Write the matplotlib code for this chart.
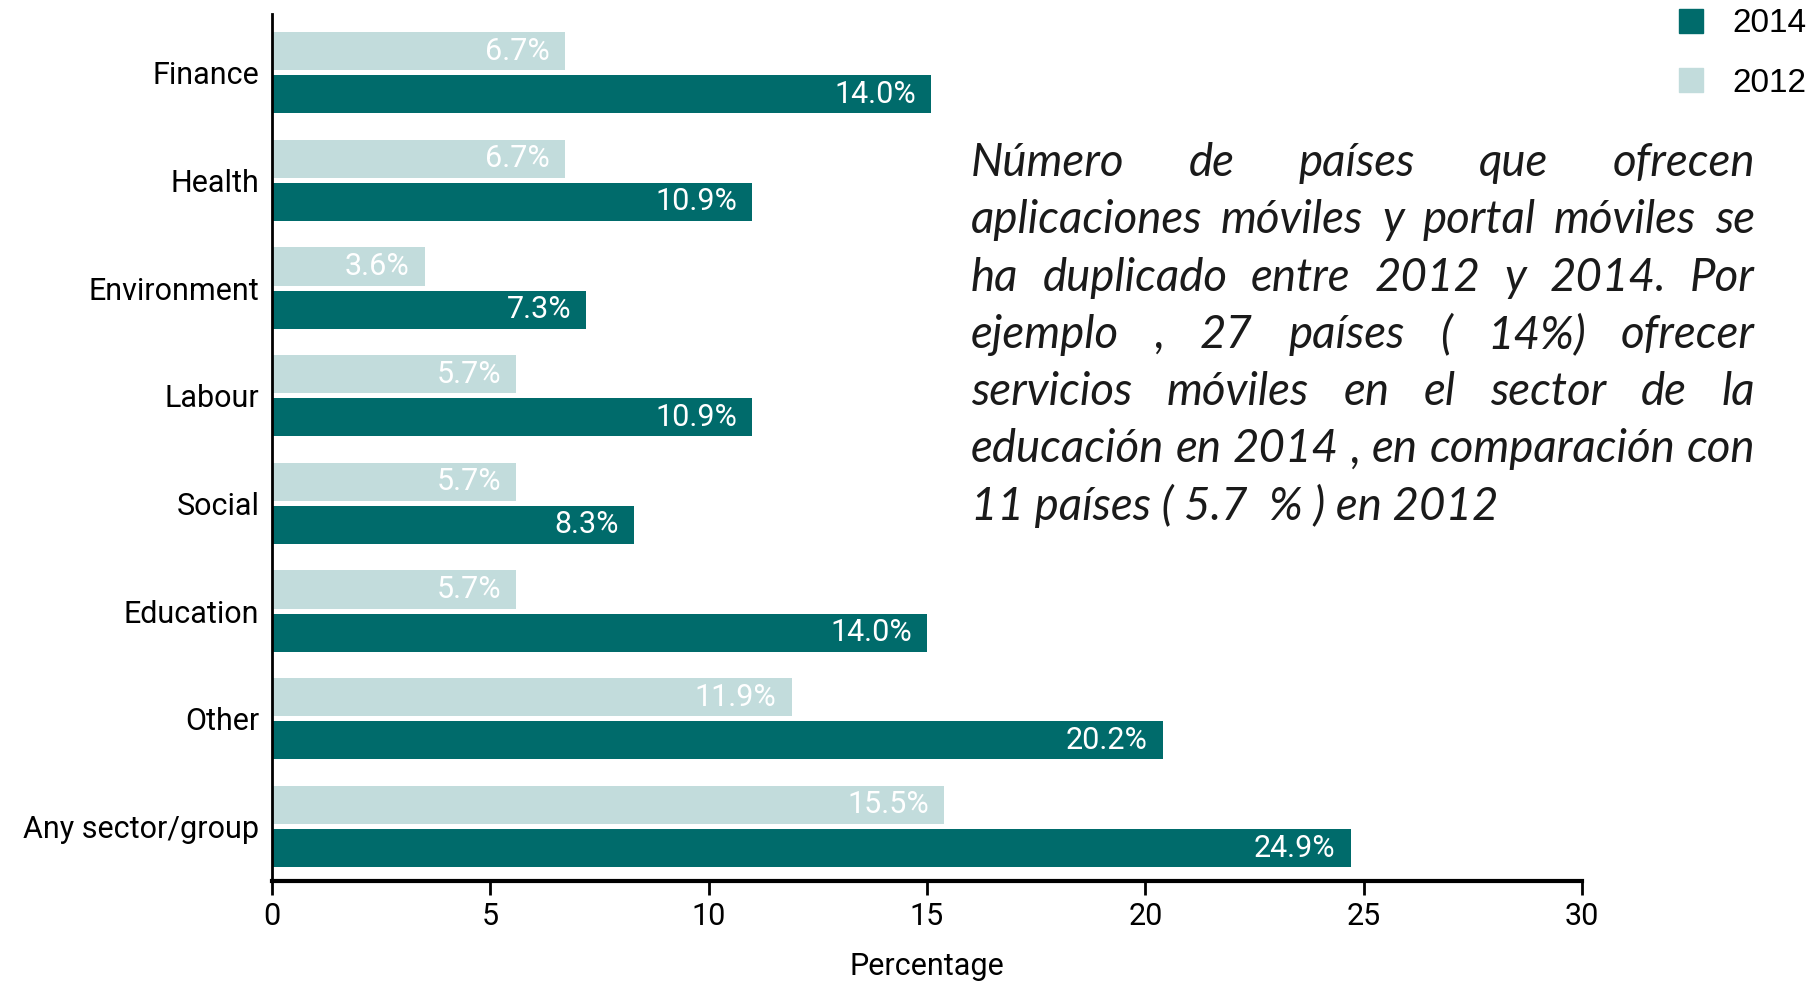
import numpy as np
import matplotlib.pyplot as plt
from matplotlib.lines import Line2D

cond = 'Roboto'

categories = ['Finance', 'Health', 'Environment', 'Labour', 'Social',
              'Education', 'Other', 'Any sector/group']
# bar lengths as drawn in the picture
bars_2014 = [15.1, 11.0, 7.2, 11.0, 8.3, 15.0, 20.4, 24.7]
bars_2012 = [6.7, 6.7, 3.5, 5.6, 5.6, 5.6, 11.9, 15.4]
# printed labels
labels_2014 = [14.0, 10.9, 7.3, 10.9, 8.3, 14.0, 20.2, 24.9]
labels_2012 = [6.7, 6.7, 3.6, 5.7, 5.7, 5.7, 11.9, 15.5]
xticks = [0, 5, 10, 15, 20, 25, 30]

note_lines = [
    'Número de países que ofrecen',
    'aplicaciones móviles y portal móviles  se',
    'ha duplicado entre 2012 y 2014. Por',
    'ejemplo , 27 países ( 14%) ofrecer',
    'servicios móviles en el sector de la',
    'educación en 2014 , en comparación con',
    '11 países ( 5.7  % ) en 2012',
]

dark = '#006b6b'
light = '#c2dcdc'

fig = plt.figure(figsize=(18.13, 9.83), dpi=100)
ax = fig.add_axes([0.150, 0.1038, 0.7226, 0.882])

y = np.arange(len(categories))
h = 0.355
ax.barh(y - 0.2, bars_2012, height=h, color=light, label='2012')
ax.barh(y + 0.2, bars_2014, height=h, color=dark, label='2014')

for i in range(len(categories)):
    ax.annotate(f'{labels_2012[i]:.1f}%', (bars_2012[i], y[i] - 0.2),
                xytext=(-11, 0), textcoords='offset points', ha='right',
                va='center', color='white', fontsize=22, family=cond)
    ax.annotate(f'{labels_2014[i]:.1f}%', (bars_2014[i], y[i] + 0.2),
                xytext=(-11, 0), textcoords='offset points', ha='right',
                va='center', color='white', fontsize=22, family=cond)

ax.set_ylim(7.506, -0.546)
ax.set_xlim(0, 30)
ax.set_yticks(y)
ax.set_yticklabels(categories, fontsize=22, family=cond)
ax.set_xticks(xticks)
ax.set_xticklabels([str(t) for t in xticks], fontsize=22, family=cond)
ax.tick_params(axis='y', length=0, pad=9)
ax.tick_params(axis='x', length=10, width=2, direction='out', pad=5)
ax.spines['top'].set_visible(False)
ax.spines['right'].set_visible(False)
ax.spines['left'].set_linewidth(2)
ax.spines['bottom'].set_linewidth(3)
ax.set_xlabel('Percentage', fontsize=22, family=cond, labelpad=15)

handles = [Line2D([], [], ls='none', marker='s', markersize=17, color=dark),
           Line2D([], [], ls='none', marker='s', markersize=17, color=light)]
fig.legend(handles, ['2014', '2012'], loc='upper right',
           bbox_to_anchor=(1.013, 1.022), frameon=False,
           prop={'family': 'Liberation Sans', 'size': 24},
           labelspacing=0.85, handletextpad=0.75, handlelength=1.0)

# justified italic note
x0, x1 = 971, 1755
base0, step = 176, 57.3
renderer = fig.canvas.get_renderer()
probe = fig.text(0, 0, note_lines[5], fontsize=28, style='italic', family='Lato')
fsize = 28 * (x1 - x0) / probe.get_window_extent(renderer).width * 0.995
probe.remove()
for j, line in enumerate(note_lines):
    ypix = 983 - (base0 + j * step)
    if j == len(note_lines) - 1:
        fig.text(x0 / 1813, ypix / 983, line, fontsize=fsize, style='italic',
                 family='Lato', color='#1a1a1a', va='baseline')
        continue
    words = line.split()
    texts = [fig.text(0, ypix / 983, w, fontsize=fsize, style='italic',
                      family='Lato', color='#1a1a1a', va='baseline')
             for w in words]
    widths = [t.get_window_extent(renderer).width for t in texts]
    gap = (x1 - x0 - sum(widths)) / (len(words) - 1)
    xp = x0
    for t, w in zip(texts, widths):
        t.set_x(xp / 1813)
        xp += w + gap

fig.savefig('out.png', dpi=100)
